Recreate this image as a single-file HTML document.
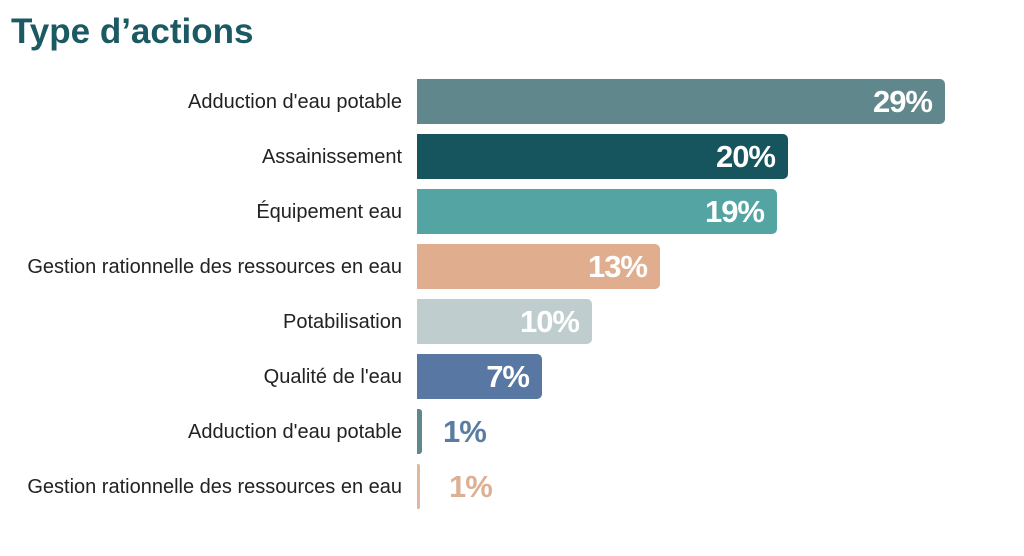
<!DOCTYPE html>
<html><head><meta charset="utf-8"><style>
body{margin:0;width:1024px;height:556px;background:#fff;font-family:"Liberation Sans","DejaVu Sans",sans-serif;position:relative;overflow:hidden}
.t{position:absolute;left:11px;top:12px;font-size:35px;font-weight:bold;color:#1b5a62}
.l{position:absolute;right:622px;font-size:20px;color:#222;line-height:47px;white-space:nowrap}
.b{position:absolute;left:417px;height:45px;border-radius:0 5px 5px 0}
.v{position:absolute;font-size:31px;font-weight:bold;color:#fff;line-height:45px;letter-spacing:-1px}
</style></head><body>
<div class="t">Type d’actions</div>

<div class="l" style="top:79px">Adduction d'eau potable</div>
<div class="b" style="top:79px;width:528px;background:#5f878c"></div>
<div class="v" style="top:79px;right:92px">29%</div>

<div class="l" style="top:134px">Assainissement</div>
<div class="b" style="top:134px;width:371px;background:#16545e"></div>
<div class="v" style="top:134px;right:249px">20%</div>

<div class="l" style="top:189px">Équipement eau</div>
<div class="b" style="top:189px;width:360px;background:#54a4a3"></div>
<div class="v" style="top:189px;right:260px">19%</div>

<div class="l" style="top:244px">Gestion rationnelle des ressources en eau</div>
<div class="b" style="top:244px;width:243px;background:#e0ae8f"></div>
<div class="v" style="top:244px;right:377px">13%</div>

<div class="l" style="top:299px">Potabilisation</div>
<div class="b" style="top:299px;width:175px;background:#c0cdcf"></div>
<div class="v" style="top:299px;right:445px">10%</div>

<div class="l" style="top:354px">Qualité de l'eau</div>
<div class="b" style="top:354px;width:125px;background:#5878a3"></div>
<div class="v" style="top:354px;right:495px">7%</div>

<div class="l" style="top:409px">Adduction d'eau potable</div>
<div class="b" style="top:409px;width:5px;background:#5f878c;border-radius:0 3px 3px 0"></div>
<div class="v" style="top:409px;left:443px;color:#5a7ca3">1%</div>

<div class="l" style="top:464px">Gestion rationnelle des ressources en eau</div>
<div class="b" style="top:464px;width:3px;background:#e0b89f;border-radius:0 2px 2px 0"></div>
<div class="v" style="top:464px;left:449px;color:#ddb095">1%</div>
</body></html>
